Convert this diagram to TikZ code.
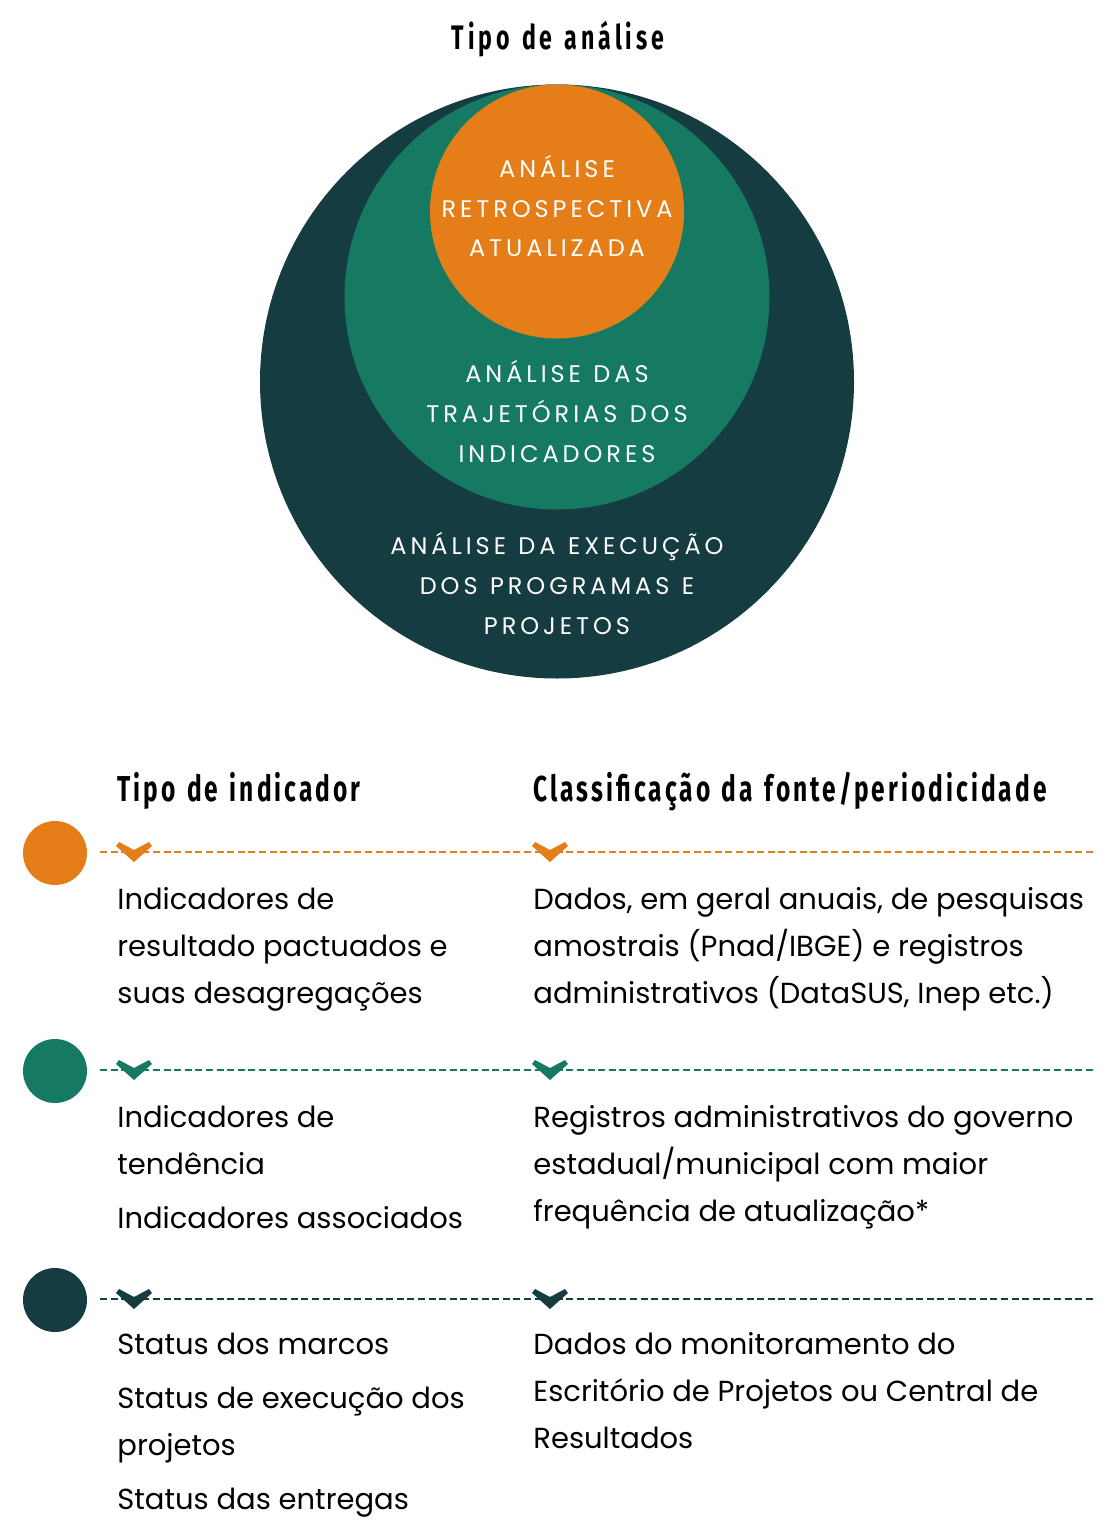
\documentclass[tikz,border=0pt]{standalone}
\usepackage{fontspec}
\setmainfont{Poppins}
\newfontfamily\headfont[FakeStretch=0.68,LetterSpace=8.5,WordSpace=1.3]{Fira Sans}
\newfontfamily\titlefont[FakeStretch=0.68,LetterSpace=11.5,WordSpace=1.3]{Fira Sans}
\newfontfamily\capsfont[LetterSpace=16.5,WordSpace=1.2]{Poppins}
\definecolor{corange}{HTML}{E57E18}
\definecolor{cgreen}{HTML}{167A62}
\definecolor{cdark}{HTML}{143C41}
\begin{document}
\begin{tikzpicture}[x=0.5pt,y=-0.5pt,
  ring/.style={circle,inner sep=0pt,draw=none},
  headtxt/.style={font=\headfont\bfseries\fontsize{18}{20}\selectfont,anchor=base west,inner sep=0pt},
  titletxt/.style={font=\titlefont\bfseries\fontsize{17}{20}\selectfont,anchor=base,inner sep=0pt},
  captxt/.style={font=\capsfont\fontsize{12}{14}\selectfont,text=white,anchor=base,inner sep=0pt},
  bodytxt/.style={font=\fontsize{14.5}{16}\selectfont,anchor=base west,inner sep=0pt},
  dotnode/.style={circle,inner sep=0pt,minimum size=32pt},
  dashrule/.style={dash pattern=on 3.5pt off 1.8pt,line width=0.6pt},
  chevmark/.pic={\fill (-18,-6) -- (-15,-10) -- (0,-2) -- (15,-10) -- (18,-6) -- (0,10) -- cycle;}
]
\useasboundingbox (0,0) rectangle (1115,1536);
% title
\node[titletxt] (t) at (558,50) {Tipo de análise};
% circles
\node[ring,fill=cdark,minimum size=297pt] (big) at (557,381.5) {};
\node[ring,fill=cgreen,minimum size=212.5pt] (mid) at (557,297) {};
\node[ring,fill=corange,minimum size=127pt] (small) at (557,211.5) {};
\node[captxt] (o1) at (557,177) {ANÁLISE};
\node[captxt] (o2) at (557,217) {RETROSPECTIVA};
\node[captxt] (o3) at (557,256) {ATUALIZADA};
\node[captxt] (g1) at (557,382) {ANÁLISE DAS};
\node[captxt] (g2) at (557,422) {TRAJETÓRIAS DOS};
\node[captxt] (g3) at (557,462) {INDICADORES};
\node[captxt] (d1) at (557,554) {ANÁLISE DA EXECUÇÃO};
\node[captxt] (d2) at (557,594) {DOS PROGRAMAS E};
\node[captxt] (d3) at (557,634) {PROJETOS};
% headers
\node[headtxt] (h1) at (117,801) {Tipo de indicador};
\node[headtxt] (h2) at (533,801) {Classificação da fonte/periodicidade};
% row 1
\node[dotnode,fill=corange] (c1) at (55,853) {};
\coordinate (r1a) at (100,852);
\coordinate (r1b) at (1093,852);
\draw[dashrule,corange] (r1a) -- (r1b);
\pic[corange] at (134,852) {chevmark};
\pic[corange] at (550,852) {chevmark};
\node[bodytxt] (a11) at (117,909) {Indicadores de};
\node[bodytxt] (a12) at (117,956) {resultado pactuados e};
\node[bodytxt] (a13) at (117,1003) {suas desagregações};
\node[bodytxt] (b11) at (533,909) {Dados, em geral anuais, de pesquisas};
\node[bodytxt] (b12) at (533,956) {amostrais (Pnad/IBGE) e registros};
\node[bodytxt] (b13) at (533,1003) {administrativos (DataSUS, Inep etc.)};
% row 2
\node[dotnode,fill=cgreen] (c2) at (55,1071) {};
\coordinate (r2a) at (100,1070);
\coordinate (r2b) at (1093,1070);
\draw[dashrule,cgreen] (r2a) -- (r2b);
\pic[cgreen] at (134,1070) {chevmark};
\pic[cgreen] at (550,1070) {chevmark};
\node[bodytxt] (a21) at (117,1127) {Indicadores de};
\node[bodytxt] (a22) at (117,1174) {tendência};
\node[bodytxt] (a23) at (117,1228) {Indicadores associados};
\node[bodytxt] (b21) at (533,1127) {Registros administrativos do governo};
\node[bodytxt] (b22) at (533,1174) {estadual/municipal com maior};
\node[bodytxt] (b23) at (533,1221) {frequência de atualização*};
% row 3
\node[dotnode,fill=cdark] (c3) at (55,1300) {};
\coordinate (r3a) at (100,1299);
\coordinate (r3b) at (1093,1299);
\draw[dashrule,cdark] (r3a) -- (r3b);
\pic[cdark] at (134,1299) {chevmark};
\pic[cdark] at (550,1299) {chevmark};
\node[bodytxt] (a31) at (117,1354) {Status dos marcos};
\node[bodytxt] (a32) at (117,1408) {Status de execução dos};
\node[bodytxt] (a33) at (117,1455) {projetos};
\node[bodytxt] (a34) at (117,1509) {Status das entregas};
\node[bodytxt] (b31) at (533,1354) {Dados do monitoramento do};
\node[bodytxt] (b32) at (533,1401) {Escritório de Projetos ou Central de};
\node[bodytxt] (b33) at (533,1448) {Resultados};
\end{tikzpicture}
\end{document}
